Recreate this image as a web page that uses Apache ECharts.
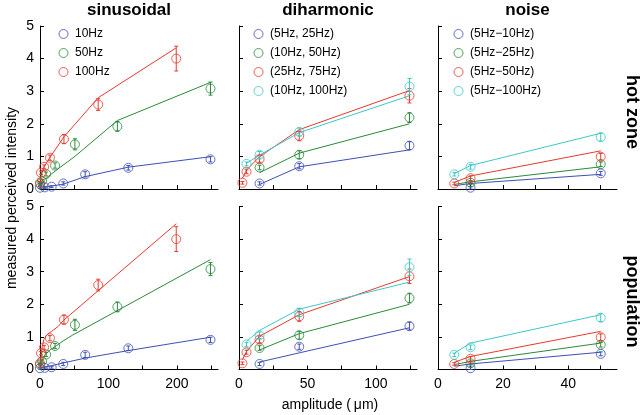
<!DOCTYPE html>
<html><head><meta charset="utf-8">
<script src="https://cdn.jsdelivr.net/npm/echarts@6/dist/echarts.min.js"></script>
<style>html,body{margin:0;padding:0;background:#fff}#c{width:640px;height:415px}</style>
</head><body><div id="c"></div>
<script>
const FONT = '"Liberation Sans", Arial, Helvetica, sans-serif';
const C_BLUE = '#3d4fb8', C_GREEN = '#2a8a3a', C_RED = '#e8392d', C_CYAN = '#3ec8c8';

const colTitles = ['sinusoidal', 'diharmonic', 'noise'];
const rowLabels = ['hot zone', 'population'];
const xTickVals = [[0, 50, 100, 150, 200, 250], [0, 25, 50, 75, 100, 125], [0, 10, 20, 30, 40, 50]];
const xLabelVals = [[0, 100, 200], [0, 50, 100], [0, 20, 40]];
const xMaxes = [260, 130, 55];

// ---- sinusoidal ----
const sinNames = ['10Hz', '50Hz', '100Hz'];
const sin10X = [0, 7, 17, 34, 66, 129, 249];
const sin10Y = [0.04, 0.05, 0.07, 0.17, 0.45, 0.65, 0.91];
const sin10E = [0.03, 0.03, 0.03, 0.05, 0.08, 0.07, 0.08];
const sin50X = [0, 3, 9, 22, 51, 113, 249];
const sin50Y = [0.15, 0.25, 0.46, 0.72, 1.37, 1.92, 3.08];
const sin50E = [0.04, 0.05, 0.06, 0.08, 0.17, 0.15, 0.2];
const sin100X = [0, 1.5, 6, 14.5, 35, 85, 199];
const sin100Y = [0.19, 0.5, 0.68, 0.96, 1.53, 2.59, 4.0];
const sin100E = [0.04, 0.05, 0.06, 0.08, 0.14, 0.18, 0.38];
// fits, hot zone (at data amplitudes)
const sinFitTop10 = [0.02, 0.05, 0.09, 0.15, 0.38, 0.67, 0.99];
const sinFitTop50 = [0.1, 0.2, 0.33, 0.55, 1.0, 2.1, 3.27];
const sinFitTop100 = [0.15, 0.42, 0.68, 0.97, 1.6, 2.8, 4.33];
// fits, population (curves)
const sinFitPopX10 = [0, 15, 34, 66, 129, 249];
const sinFitPopY10 = [0.04, 0.11, 0.2, 0.35, 0.58, 0.99];
const sinFitPopX50 = [0, 3.4, 7, 14.5, 24, 34, 48, 249];
const sinFitPopY50 = [0.09, 0.3, 0.45, 0.6, 0.73, 0.88, 1.06, 3.37];
const sinFitPopX100 = [0, 1.5, 3.4, 5.8, 9.7, 17, 26.5, 34, 199];
const sinFitPopY100 = [0.14, 0.4, 0.71, 0.93, 1.06, 1.17, 1.32, 1.5, 4.47];

// ---- diharmonic ----
const diNames = ['(5Hz, 25Hz)', '(10Hz, 50Hz)', '(25Hz, 75Hz)', '(10Hz, 100Hz)'];
const diBlueX = [15, 44, 124.5];
const diBlueY = [0.17, 0.7, 1.33];
const diBlueE = [0.05, 0.08, 0.12];
const diGreenX = [15, 44, 124.5];
const diGreenY = [0.66, 1.05, 2.19];
const diGreenE = [0.07, 0.12, 0.15];
const diRedX = [2.5, 5.5, 15, 44, 124.5];
const diRedY = [0.19, 0.53, 0.92, 1.63, 2.86];
const diRedE = [0.04, 0.06, 0.1, 0.15, 0.22];
const diCyanX = [5.5, 15, 44, 124.5];
const diCyanY = [0.77, 1.05, 1.75, 3.14];
const diCyanE = [0.06, 0.1, 0.12, 0.25];
const diFitTopBlue = [0.14, 0.68, 1.2];
const diFitTopGreen = [0.5, 1.1, 2.0];
const diFitTopRed = [0.33, 0.58, 0.99, 1.82, 3.02];
const diFitTopCyan = [0.79, 1.04, 1.73, 2.86];
const diFitPopBlue = [0.23, 0.51, 1.28];
const diFitPopGreen = [0.6, 1.1, 2.0];
const diFitPopRed = [0.3, 0.55, 1.02, 1.68, 2.85];
const diFitPopCyan = [0.86, 1.2, 1.85, 2.68];

// ---- noise ----
const noNames = ['(5Hz\u221210Hz)', '(5Hz\u221225Hz)', '(5Hz\u221250Hz)', '(5Hz\u2212100Hz)'];
const noBlueX = [10, 50];
const noBlueY = [0.04, 0.48];
const noBlueE = [0.04, 0.06];
const noGreenX = [10, 50];
const noGreenY = [0.19, 0.76];
const noGreenE = [0.05, 0.07];
const noRedX = [5, 10, 50];
const noRedY = [0.17, 0.33, 0.99];
const noRedE = [0.04, 0.07, 0.1];
const noCyanX = [5, 10, 50];
const noCyanY = [0.45, 0.68, 1.59];
const noCyanE = [0.05, 0.07, 0.12];
const noFitX = [5, 10, 50];
const noFitTopBlue = [0.1, 0.17, 0.45];
const noFitTopGreen = [0.14, 0.22, 0.68];
const noFitTopRed = [0.2, 0.4, 1.17];
const noFitTopCyan = [0.47, 0.72, 1.71];
const noFitPopBlue = [0.1, 0.17, 0.53];
const noFitPopGreen = [0.15, 0.25, 0.81];
const noFitPopRed = [0.22, 0.4, 1.17];
const noFitPopCyan = [0.5, 0.81, 1.68];

// ---------- build ----------
const zip = (xs, ys) => xs.map((x, i) => [x, ys[i]]);
const gridTops = [26, 206.5];
const gridLefts = [40, 239, 438];
const gridWidths = [178, 178, 179];
const GRID_H = 163;

const grid = [], xAxis = [], yAxis = [], series = [];
for (let r = 0; r < 2; r++) {
  for (let c = 0; c < 3; c++) {
    grid.push({left: gridLefts[c], top: gridTops[r], width: gridWidths[c], height: GRID_H});
    xAxis.push({
      type: 'value', gridIndex: r * 3 + c, min: 0, max: xMaxes[c],
      axisLine: {show: true, onZero: false, lineStyle: {color: '#000', width: 1}},
      axisTick: {show: true, inside: true, length: 4, customValues: xTickVals[c], lineStyle: {color: '#000'}},
      axisLabel: {show: r === 1, customValues: xLabelVals[c], fontSize: 14, color: '#000', margin: 8, fontFamily: FONT},
      splitLine: {show: false}
    });
    yAxis.push({
      type: 'value', gridIndex: r * 3 + c, min: 0, max: 5, interval: 1,
      axisLine: {show: true, onZero: false, lineStyle: {color: '#000', width: 1}},
      axisTick: {show: true, inside: true, length: 4, lineStyle: {color: '#000'}},
      axisLabel: {show: c === 0, fontSize: 14, color: '#000', margin: 6, fontFamily: FONT},
      splitLine: {show: false}
    });
  }
}

function addGroup(gi, name, xs, ys, es, fitPts, color) {
  series.push({
    type: 'line', xAxisIndex: gi, yAxisIndex: gi, data: fitPts, symbol: 'none',
    lineStyle: {color: color, width: 1}, silent: true, z: 2, clip: false
  });
  series.push({
    type: 'custom', xAxisIndex: gi, yAxisIndex: gi, z: 3, clip: false, silent: true,
    data: xs.map((x, i) => [x, ys[i], es[i]]),
    encode: {x: 0, y: 1},
    renderItem: (params, api) => {
      const x = api.value(0), y = api.value(1), e = api.value(2);
      const p1 = api.coord([x, y - e]), p2 = api.coord([x, y + e]);
      const w = 2;
      const st = {stroke: color, lineWidth: 1};
      return {type: 'group', children: [
        {type: 'line', shape: {x1: p1[0], y1: p1[1], x2: p2[0], y2: p2[1]}, style: st},
        {type: 'line', shape: {x1: p1[0] - w, y1: p1[1], x2: p1[0] + w, y2: p1[1]}, style: st},
        {type: 'line', shape: {x1: p2[0] - w, y1: p2[1], x2: p2[0] + w, y2: p2[1]}, style: st}
      ]};
    }
  });
  series.push({
    type: 'scatter', name: name, xAxisIndex: gi, yAxisIndex: gi, data: zip(xs, ys),
    symbol: 'circle', symbolSize: 9, clip: false, z: 4,
    itemStyle: {color: 'rgba(0,0,0,0)', borderColor: color, borderWidth: 1}
  });
}

// sinusoidal
addGroup(0, sinNames[0], sin10X, sin10Y, sin10E, zip(sin10X, sinFitTop10), C_BLUE);
addGroup(0, sinNames[1], sin50X, sin50Y, sin50E, zip(sin50X, sinFitTop50), C_GREEN);
addGroup(0, sinNames[2], sin100X, sin100Y, sin100E, zip(sin100X, sinFitTop100), C_RED);
addGroup(3, sinNames[0], sin10X, sin10Y, sin10E, zip(sinFitPopX10, sinFitPopY10), C_BLUE);
addGroup(3, sinNames[1], sin50X, sin50Y, sin50E, zip(sinFitPopX50, sinFitPopY50), C_GREEN);
addGroup(3, sinNames[2], sin100X, sin100Y, sin100E, zip(sinFitPopX100, sinFitPopY100), C_RED);
// diharmonic
addGroup(1, diNames[0], diBlueX, diBlueY, diBlueE, zip(diBlueX, diFitTopBlue), C_BLUE);
addGroup(1, diNames[1], diGreenX, diGreenY, diGreenE, zip(diGreenX, diFitTopGreen), C_GREEN);
addGroup(1, diNames[2], diRedX, diRedY, diRedE, zip(diRedX, diFitTopRed), C_RED);
addGroup(1, diNames[3], diCyanX, diCyanY, diCyanE, zip(diCyanX, diFitTopCyan), C_CYAN);
addGroup(4, diNames[0], diBlueX, diBlueY, diBlueE, zip(diBlueX, diFitPopBlue), C_BLUE);
addGroup(4, diNames[1], diGreenX, diGreenY, diGreenE, zip(diGreenX, diFitPopGreen), C_GREEN);
addGroup(4, diNames[2], diRedX, diRedY, diRedE, zip(diRedX, diFitPopRed), C_RED);
addGroup(4, diNames[3], diCyanX, diCyanY, diCyanE, zip(diCyanX, diFitPopCyan), C_CYAN);
// noise
addGroup(2, noNames[0], noBlueX, noBlueY, noBlueE, zip(noFitX, noFitTopBlue), C_BLUE);
addGroup(2, noNames[1], noGreenX, noGreenY, noGreenE, zip(noFitX, noFitTopGreen), C_GREEN);
addGroup(2, noNames[2], noRedX, noRedY, noRedE, zip(noFitX, noFitTopRed), C_RED);
addGroup(2, noNames[3], noCyanX, noCyanY, noCyanE, zip(noFitX, noFitTopCyan), C_CYAN);
addGroup(5, noNames[0], noBlueX, noBlueY, noBlueE, zip(noFitX, noFitPopBlue), C_BLUE);
addGroup(5, noNames[1], noGreenX, noGreenY, noGreenE, zip(noFitX, noFitPopGreen), C_GREEN);
addGroup(5, noNames[2], noRedX, noRedY, noRedE, zip(noFitX, noFitPopRed), C_RED);
addGroup(5, noNames[3], noCyanX, noCyanY, noCyanE, zip(noFitX, noFitPopCyan), C_CYAN);

function mkLegend(names, cols, left) {
  return {
    orient: 'vertical', left: left, top: 23, itemGap: 7, itemWidth: 13, itemHeight: 9,
    icon: 'circle', selectedMode: false,
    textStyle: {fontSize: 12, color: '#000', fontFamily: FONT},
    data: names.map((n, i) => ({name: n, icon: 'circle',
      itemStyle: {color: 'rgba(0,0,0,0)', borderColor: cols[i], borderWidth: 1}}))
  };
}
const legend = [
  mkLegend(sinNames, [C_BLUE, C_GREEN, C_RED], 53.5),
  mkLegend(diNames, [C_BLUE, C_GREEN, C_RED, C_CYAN], 248.5),
  mkLegend(noNames, [C_BLUE, C_GREEN, C_RED, C_CYAN], 448.5)
];

const graphic = [];
colTitles.forEach((t, c) => {
  graphic.push({type: 'text', x: gridLefts[c] + gridWidths[c] / 2, y: 10,
    style: {text: t, font: 'bold 17px ' + FONT, fill: '#000', align: 'center', verticalAlign: 'middle'}});
});
rowLabels.forEach((t, r) => {
  graphic.push({type: 'text', x: 632, y: gridTops[r] + [86, 95][r], rotation: -Math.PI / 2,
    style: {text: t, font: 'bold 18px ' + FONT, fill: '#000', align: 'center', verticalAlign: 'middle'}});
});
graphic.push({type: 'text', x: 12, y: 198, rotation: Math.PI / 2,
  style: {text: 'measured perceived intensity', font: '14px ' + FONT, fill: '#000', align: 'center', verticalAlign: 'middle'}});
graphic.push({type: 'text', x: 330, y: 405,
  style: {text: 'amplitude (\u2009\u03bcm)', font: '14px ' + FONT, fill: '#000', align: 'center', verticalAlign: 'middle'}});

const chart = echarts.init(document.getElementById('c'), null, {renderer: 'canvas'});
chart.setOption({animation: false, backgroundColor: '#fff', grid, xAxis, yAxis, legend, series, graphic});
</script></body></html>
